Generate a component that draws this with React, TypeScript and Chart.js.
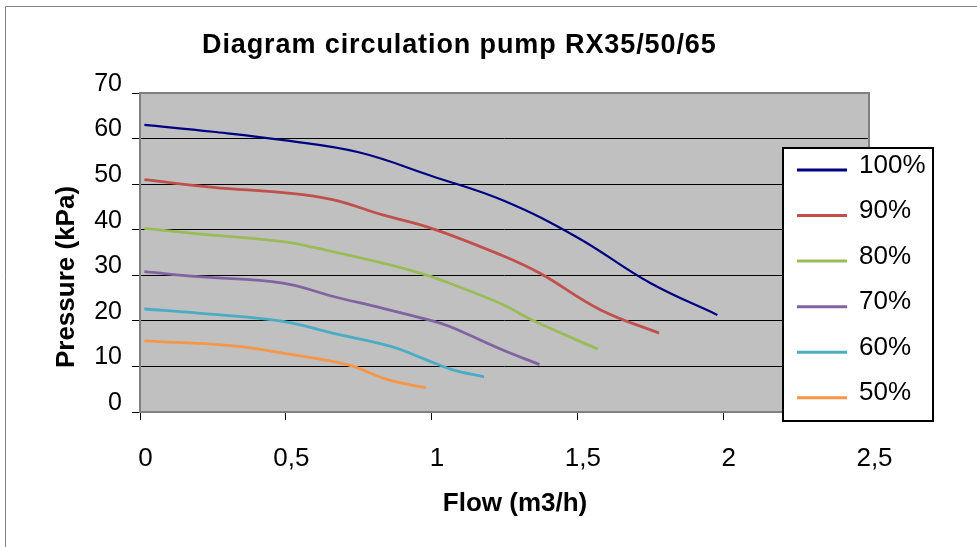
import React, { useEffect, useRef } from 'react';
import { Chart, registerables } from 'chart.js';

Chart.register(...registerables);

const chartTitle = 'Diagram circulation pump RX35/50/65';
const xAxisTitle = 'Flow (m3/h)';
const yAxisTitle = 'Pressure (kPa)';

const seriesNames = ['100%', '90%', '80%', '70%', '60%', '50%'];
const seriesColors = ['#000080', '#C0504D', '#9BBB59', '#8064A2', '#4BACC6', '#F79646'];

const xTickLabels = ['0', '0,5', '1', '1,5', '2', '2,5'];
const yTickLabels = ['0', '10', '20', '30', '40', '50', '60', '70'];

const flow100 = [0.015, 0.25, 0.5, 0.75, 1.0, 1.25, 1.5, 1.75, 1.98];
const pressure100 = [63.0, 61.5, 59.6, 57.0, 51.8, 46.3, 38.3, 28.3, 21.3];

const flow90 = [0.015, 0.25, 0.5, 0.66, 0.83, 1.0, 1.24, 1.37, 1.58, 1.78];
const pressure90 = [51.0, 49.3, 48.1, 46.6, 43.3, 40.3, 34.4, 30.5, 22.4, 17.3];

const flow80 = [0.015, 0.2, 0.49, 0.66, 0.83, 0.98, 1.06, 1.24, 1.35, 1.57];
const pressure80 = [40.3, 39.1, 37.4, 35.2, 32.7, 30.1, 28.3, 23.7, 20.0, 13.8];

const flow70 = [0.015, 0.2, 0.49, 0.66, 0.83, 0.99, 1.06, 1.24, 1.37];
const pressure70 = [30.8, 29.7, 28.3, 25.4, 22.8, 20.2, 18.8, 13.7, 10.4];

const flow60 = [0.015, 0.2, 0.49, 0.66, 0.86, 0.98, 1.07, 1.18];
const pressure60 = [22.6, 21.7, 19.9, 17.3, 14.4, 11.5, 9.3, 7.7];

const flow50 = [0.015, 0.32, 0.49, 0.71, 0.85, 0.98];
const pressure50 = [15.6, 14.5, 12.9, 10.4, 7.1, 5.3];

const seriesFlows = [flow100, flow90, flow80, flow70, flow60, flow50];
const seriesPressures = [pressure100, pressure90, pressure80, pressure70, pressure60, pressure50];

const FONT = "'Liberation Sans', Arial, sans-serif";

const decorPlugin = {
  id: 'decor',
  beforeDraw(chart: any) {
    const { ctx, chartArea, width, height } = chart;
    ctx.save();
    ctx.fillStyle = '#ffffff';
    ctx.fillRect(0, 0, width, height);
    ctx.strokeStyle = '#808080';
    ctx.lineWidth = 1;
    ctx.beginPath();
    ctx.moveTo(5.5, height);
    ctx.lineTo(5.5, 6.5);
    ctx.lineTo(width, 6.5);
    ctx.stroke();
    ctx.fillStyle = '#C0C0C0';
    ctx.fillRect(chartArea.left, chartArea.top, chartArea.right - chartArea.left, chartArea.bottom - chartArea.top);
    ctx.restore();
  },
  beforeDatasetsDraw(chart: any) {
    const { ctx, chartArea } = chart;
    ctx.save();
    ctx.strokeStyle = '#808080';
    ctx.lineWidth = 2;
    ctx.strokeRect(chartArea.left, chartArea.top, chartArea.right - chartArea.left, chartArea.bottom - chartArea.top);
    ctx.restore();
  },
  afterDraw(chart: any) {
    const { ctx } = chart;
    ctx.save();
    ctx.fillStyle = '#000000';
    // title
    ctx.font = `bold 27px ${FONT}`;
    ctx.textAlign = 'left';
    ctx.textBaseline = 'alphabetic';
    (ctx as any).letterSpacing = '0.9px';
    ctx.fillText(chartTitle, 202, 53);
    (ctx as any).letterSpacing = '0px';
    // x title
    ctx.font = `bold 26px ${FONT}`;
    ctx.textAlign = 'center';
    ctx.fillText(xAxisTitle, 515, 511);
    // y title
    ctx.save();
    ctx.translate(73.5, 277);
    ctx.rotate(-Math.PI / 2);
    ctx.fillText(yAxisTitle, 0, 0);
    ctx.restore();
    // legend
    const lx = 783, ly = 148, lw = 150, lh = 273;
    ctx.fillStyle = '#ffffff';
    ctx.fillRect(lx, ly, lw, lh);
    ctx.strokeStyle = '#000000';
    ctx.lineWidth = 2;
    ctx.strokeRect(lx, ly, lw, lh);
    const datasets = chart.data.datasets;
    ctx.font = `26px ${FONT}`;
    ctx.textAlign = 'left';
    ctx.textBaseline = 'alphabetic';
    datasets.forEach((ds: any, i: number) => {
      const ry = 170 + i * 45.55;
      ctx.strokeStyle = ds.borderColor;
      ctx.lineWidth = 3;
      ctx.beginPath();
      ctx.moveTo(797, ry);
      ctx.lineTo(847, ry);
      ctx.stroke();
      ctx.fillStyle = '#000000';
      ctx.fillText(ds.label, 859, ry + 2.7);
    });
    ctx.restore();
  },
};

export default function App() {
  const canvasRef = useRef<HTMLCanvasElement | null>(null);

  useEffect(() => {
    const canvas = canvasRef.current;
    if (!canvas) return;
    const datasets = seriesNames.map((name, i) => ({
      label: name,
      data: seriesFlows[i].map((f, j) => ({ x: f, y: seriesPressures[i][j] })),
      borderColor: seriesColors[i],
      backgroundColor: seriesColors[i],
      borderWidth: i === 0 ? 2.2 : 2.8,
      pointRadius: 0,
      fill: false,
      tension: 0.4,
    }));
    const chart = new Chart(canvas, {
      type: 'line',
      data: { datasets },
      options: {
        animation: false,
        responsive: false,
        devicePixelRatio: 1,
        layout: { padding: { left: 0, top: 93, right: 108, bottom: 0 } },
        plugins: {
          legend: { display: false },
          title: { display: false },
          tooltip: { enabled: false },
        },
        scales: {
          x: {
            type: 'linear',
            min: 0,
            max: 2.5,
            afterFit: (scale: any) => { scale.height = 135; },
            border: { display: false },
            grid: { drawOnChartArea: false, drawTicks: true, tickLength: 8, tickColor: '#000000', lineWidth: 1 },
            ticks: {
              stepSize: 0.5,
              color: '#000000',
              padding: 23,
              labelOffset: 5.5,
              maxRotation: 0,
              font: { family: FONT, size: 26 },
              callback: (_v: any, index: number) => xTickLabels[index],
            },
          },
          y: {
            type: 'linear',
            min: 0,
            max: 70,
            afterFit: (scale: any) => { scale.width = 140; },
            border: { display: false },
            grid: { color: '#000000', lineWidth: 1, drawTicks: true, tickLength: 8, tickColor: '#000000' },
            ticks: {
              stepSize: 10,
              color: '#000000',
              padding: 10,
              labelOffset: -9,
              font: { family: FONT, size: 25 },
              callback: (_v: any, index: number) => yTickLabels[index],
            },
          },
        },
      },
      plugins: [decorPlugin],
    });
    return () => chart.destroy();
  }, []);

  return (
    <div style={{ position: 'absolute', left: 0, top: 0, width: 977, height: 547 }}>
      <canvas ref={canvasRef} width={977} height={547} style={{ display: 'block' }} />
    </div>
  );
}
